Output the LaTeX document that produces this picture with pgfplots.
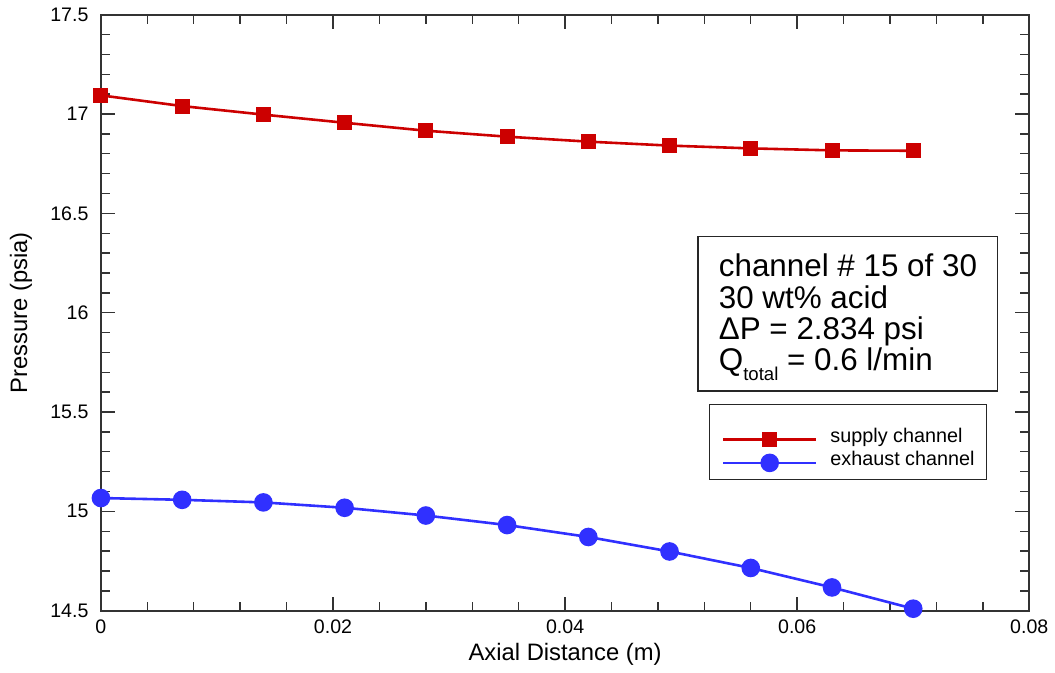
\documentclass[border=0pt]{standalone}
\usepackage{pgfplots}
\pgfplotsset{compat=1.18}
\usepackage{fontspec}
\setmainfont{Liberation Sans}
\definecolor{supred}{RGB}{204,0,0}
\definecolor{exblue}{RGB}{48,48,255}

\begin{document}
\begin{tikzpicture}
\begin{axis}[
  name=ax,
  scale only axis,
  width=464.5pt, height=298.2pt,
  xmin=0, xmax=0.08, ymin=14.5, ymax=17.5,
  xtick={0,0.02,0.04,0.06,0.08},
  ytick={14.5,15,15.5,16,16.5,17,17.5},
  minor x tick num=4, minor y tick num=4,
  tick align=inside,
  major tick length=7pt, minor tick length=4.5pt,
  axis line style={black!80, line width=0.9pt},
  every tick/.style={black!80, line width=0.7pt},
  scaled x ticks=false, scaled y ticks=false,
  /pgf/number format/assume math mode=true,
  xticklabel style={/pgf/number format/fixed, /pgf/number format/precision=2, yshift=-1.2pt},
  yticklabel style={/pgf/number format/fixed, /pgf/number format/precision=1, xshift=-2.7pt},
  tick label style={font=\fontsize{9.8}{11}\selectfont},
  label style={font=\fontsize{11.9}{13}\selectfont},
  xlabel={Axial Distance (m)},
  ylabel={Pressure (psia)},
  xlabel style={at={(axis description cs:0.5,-0.074)}, anchor=center},
  ylabel style={at={(axis description cs:-0.086,0.5)}, anchor=center},
  clip=false,
  legend image code/.code={\draw[mark repeat=2,mark phase=2] plot coordinates {(0pt,0pt) (23.25pt,0pt) (46.5pt,0pt)};},
  legend style={draw=none, fill=none, at={(rel axis cs:0.6685,0.307)}, anchor=north west,
    inner sep=0pt, column sep=6.5pt, row sep=0pt, font=\fontsize{9.9}{11}\selectfont,
    nodes={inner sep=0pt, text height=7.3pt, text depth=4.3pt}},
  legend cell align=left,
]
% supply channel
\addplot[supred, line width=1.3pt, mark=square*, mark size=3.1pt, mark options={solid}] coordinates {
  (0.000, 17.094) (0.007, 17.040) (0.014, 16.997) (0.021, 16.956)
  (0.028, 16.916) (0.035, 16.886) (0.042, 16.861) (0.049, 16.841)
  (0.056, 16.827) (0.063, 16.817) (0.070, 16.815)
};
\addlegendentry{supply channel}
% exhaust channel
\addplot[exblue, line width=1.3pt, mark=*, mark size=4pt, mark options={solid}] coordinates {
  (0.000, 15.067) (0.007, 15.058) (0.014, 15.045) (0.021, 15.018)
  (0.028, 14.979) (0.035, 14.931) (0.042, 14.871) (0.049, 14.798)
  (0.056, 14.715) (0.063, 14.617) (0.070, 14.510)
};
\addlegendentry{exhaust channel}

\node[draw=black!85, line width=0.6pt, anchor=north west, minimum width=150pt, minimum height=77.5pt,
  inner xsep=10pt, inner ysep=3pt, align=left,
  font=\fontsize{15.7}{15.6}\selectfont] at (rel axis cs:0.6426,0.6294)
  {\rule{0pt}{15pt}channel \# 15 of 30\\30 wt\% acid\\ΔP = 2.834 psi\\Q\raisebox{-4.75pt}{\fontsize{9.3}{10}\selectfont total} = 0.6 l/min};
\draw[black!85, line width=0.6pt] (rel axis cs:0.6555,0.3455) rectangle (rel axis cs:0.9537,0.2197);
\end{axis}
\path ([xshift=-50.5pt,yshift=-31pt]ax.south west) rectangle ([xshift=12.5pt,yshift=7.35pt]ax.north east);
\end{tikzpicture}
\end{document}
